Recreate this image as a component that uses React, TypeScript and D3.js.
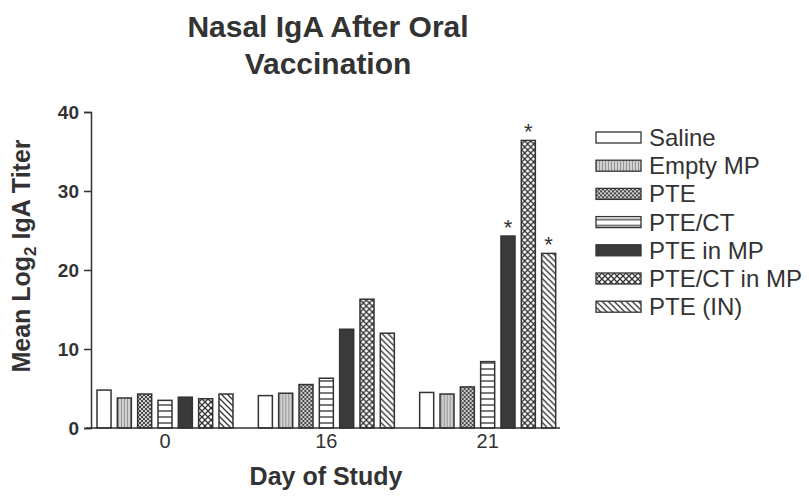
import React, { useRef, useEffect } from 'react';
import * as d3 from 'd3';

const days = ['0', '16', '21'];
const groups = ['Saline', 'Empty MP', 'PTE', 'PTE/CT', 'PTE in MP', 'PTE/CT in MP', 'PTE (IN)'];
// one array per study day, values in the order of groups
const day0 = [4.8, 3.8, 4.3, 3.5, 3.9, 3.7, 4.3];
const day16 = [4.1, 4.4, 5.5, 6.3, 12.5, 16.3, 12.0];
const day21 = [4.5, 4.3, 5.2, 8.4, 24.3, 36.4, 22.1];
const significant21 = ['PTE in MP', 'PTE/CT in MP', 'PTE (IN)'];
const yTicks = [0, 10, 20, 30, 40];

const INK = '#333';

const App = () => {
  const svgRef = useRef(null);

  useEffect(() => {
    document.body.style.margin = '0';
    const svg = d3.select(svgRef.current);
    svg.selectAll('*').remove();

    const width = 809;
    const height = 497;
    const font = 'Liberation Sans, Arial, sans-serif';

    svg.append('rect').attr('width', width).attr('height', height).attr('fill', '#fff');

    // Patterns
    const defs = svg.append('defs');
    const pat = (id, size) =>
      defs.append('pattern')
        .attr('id', id)
        .attr('patternUnits', 'userSpaceOnUse')
        .attr('width', size)
        .attr('height', size);

    const empty = pat('p-empty', 3);
    empty.append('rect').attr('width', 3).attr('height', 3).attr('fill', '#d0d0d0');
    empty.append('line').attr('x1', 0.5).attr('x2', 0.5).attr('y1', 0).attr('y2', 3)
      .attr('stroke', '#888').attr('stroke-width', 0.8);

    const pte = pat('p-pte', 4);
    pte.append('rect').attr('width', 4).attr('height', 4).attr('fill', '#4a4a4a');
    pte.append('rect').attr('x', 0).attr('y', 0).attr('width', 2).attr('height', 2).attr('fill', '#ccc');
    pte.append('rect').attr('x', 2).attr('y', 2).attr('width', 2).attr('height', 2).attr('fill', '#ccc');

    const ptect = pat('p-ptect', 6);
    ptect.append('rect').attr('width', 6).attr('height', 6).attr('fill', '#fff');
    ptect.append('line').attr('x1', 0).attr('x2', 6).attr('y1', 3).attr('y2', 3)
      .attr('stroke', INK).attr('stroke-width', 1.3);

    const mp = pat('p-ptectmp', 6);
    mp.append('rect').attr('width', 6).attr('height', 6).attr('fill', '#fff');
    mp.append('path').attr('d', 'M0,0L6,6M6,0L0,6')
      .attr('stroke', INK).attr('stroke-width', 1.3);

    const inn = pat('p-in', 6);
    inn.append('rect').attr('width', 6).attr('height', 6).attr('fill', '#fff');
    inn.append('path').attr('d', 'M-1,-1L7,7M-1,5L1,7M5,-1L7,1')
      .attr('stroke', INK).attr('stroke-width', 1.3);

    const fills = {
      'Saline': '#fff',
      'Empty MP': 'url(#p-empty)',
      'PTE': 'url(#p-pte)',
      'PTE/CT': 'url(#p-ptect)',
      'PTE in MP': '#3a3a3a',
      'PTE/CT in MP': 'url(#p-ptectmp)',
      'PTE (IN)': 'url(#p-in)'
    };

    const values = [day0, day16, day21];
    const data = days.map((day, i) => ({
      day,
      bars: groups.map((g, j) => ({ group: g, value: values[i][j] }))
    }));

    // Scales
    const x0 = d3.scaleBand().domain(days).range([91, 575]).padding(0);
    const x1 = d3.scaleBand().domain(groups).range([6, 142]).paddingInner(0.31).paddingOuter(0);
    const y = d3.scaleLinear().domain([0, 40]).range([428, 112]);

    // Bars
    const g = svg.append('g');
    const grp = g.selectAll('g.day')
      .data(data)
      .enter()
      .append('g')
      .attr('class', 'day')
      .attr('transform', d => `translate(${x0(d.day)},0)`);

    grp.selectAll('rect')
      .data(d => d.bars)
      .enter()
      .append('rect')
      .attr('x', d => x1(d.group))
      .attr('y', d => y(d.value))
      .attr('width', x1.bandwidth())
      .attr('height', d => y(0) - y(d.value))
      .attr('fill', d => fills[d.group])
      .attr('stroke', INK)
      .attr('stroke-width', 1.5);

    // Asterisks on day 21
    grp.filter(d => d.day === '21')
      .selectAll('text.star')
      .data(d => d.bars.filter(b => significant21.includes(b.group)))
      .enter()
      .append('text')
      .attr('class', 'star')
      .attr('x', d => x1(d.group) + x1.bandwidth() / 2)
      .attr('y', d => y(d.value) - 1)
      .attr('text-anchor', 'middle')
      .attr('font-family', font)
      .attr('font-size', '22px')
      .attr('fill', INK)
      .text('*');

    // Y axis
    const yAxis = svg.append('g')
      .attr('transform', 'translate(91,0)')
      .call(d3.axisLeft(y).tickValues(yTicks).tickSize(7).tickPadding(5));
    yAxis.select('.domain').attr('stroke', INK).attr('stroke-width', 1.5);
    yAxis.selectAll('line').attr('stroke', INK).attr('stroke-width', 1.5);
    yAxis.selectAll('text')
      .attr('font-family', font)
      .attr('font-size', '19px')
      .attr('font-weight', 'bold')
      .attr('fill', INK);

    // X axis baseline
    svg.append('line')
      .attr('x1', 86).attr('x2', 560)
      .attr('y1', y(0)).attr('y2', y(0))
      .attr('stroke', INK).attr('stroke-width', 1.5);

    svg.selectAll('text.day')
      .data(days)
      .enter()
      .append('text')
      .attr('class', 'day')
      .attr('x', d => x0(d) + 74)
      .attr('y', 448)
      .attr('text-anchor', 'middle')
      .attr('font-family', font)
      .attr('font-size', '20px')
      .attr('fill', INK)
      .text(d => d);

    // Titles
    const title = svg.append('text')
      .attr('text-anchor', 'middle')
      .attr('font-family', font)
      .attr('font-size', '30px')
      .attr('font-weight', 'bold')
      .attr('fill', INK);
    title.append('tspan').attr('x', 328).attr('y', 37).text('Nasal IgA After Oral');
    title.append('tspan').attr('x', 328).attr('y', 74).text('Vaccination');

    svg.append('text')
      .attr('x', 326)
      .attr('y', 485)
      .attr('text-anchor', 'middle')
      .attr('font-family', font)
      .attr('font-size', '25px')
      .attr('font-weight', 'bold')
      .attr('fill', INK)
      .text('Day of Study');

    const yl = svg.append('text')
      .attr('transform', 'translate(30,256) rotate(-90)')
      .attr('text-anchor', 'middle')
      .attr('font-family', font)
      .attr('font-size', '25px')
      .attr('font-weight', 'bold')
      .attr('fill', INK);
    yl.append('tspan').text('Mean Log');
    yl.append('tspan').attr('font-size', '17px').attr('dy', 6).text('2');
    yl.append('tspan').attr('dy', -6).text(' IgA Titer');

    // Legend
    const legend = svg.append('g').attr('transform', 'translate(596,132)');
    const items = legend.selectAll('g')
      .data(groups)
      .enter()
      .append('g')
      .attr('transform', (d, i) => `translate(0,${i * 28.2})`);
    items.append('rect')
      .attr('width', 45)
      .attr('height', 11)
      .attr('fill', d => fills[d])
      .attr('stroke', INK)
      .attr('stroke-width', 1.3);
    items.append('text')
      .attr('x', 53)
      .attr('y', 14)
      .attr('font-family', font)
      .attr('font-size', '24px')
      .attr('fill', INK)
      .text(d => d);
  }, []);

  return <svg ref={svgRef} width={809} height={497} style={{ display: 'block' }} />;
};

export default App;
